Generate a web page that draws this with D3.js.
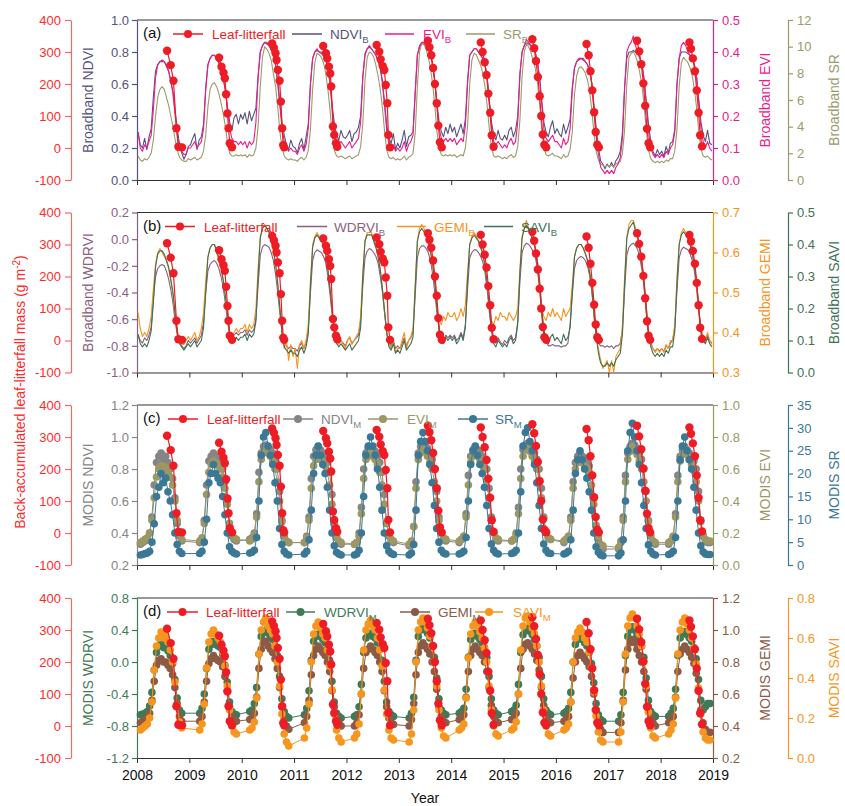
<!DOCTYPE html>
<html lang="en">
<head>
<meta charset="utf-8">
<title>Leaf-litterfall and vegetation indices</title>
<script src="https://cdn.jsdelivr.net/npm/d3@7"></script>
<style>
  body { margin: 0; background: #fff; }
  svg { font-family: Arial, "Liberation Sans", sans-serif; }
</style>
</head>
<body>
<script>

// years on the x axis
var yearTicks = [2008, 2009, 2010, 2011, 2012, 2013, 2014, 2015, 2016, 2017, 2018, 2019];
var dataYears = [2008, 2009, 2010, 2011, 2012, 2013, 2014, 2015, 2016, 2017, 2018];

// broadband series: 24 half-month values per year, 2008..2018
var ndviB = [
 .30,.22,.20,.26,.19,.27,.32,.52,.68,.72,.74,.75,.74,.71,.68,.62,.55,.42,.32,.22,.17,.13,.16,.21,
 .22,.26,.29,.19,.25,.27,.35,.58,.72,.76,.78,.78,.76,.73,.70,.64,.56,.45,.36,.31,.39,.41,.35,.41,
 .38,.42,.35,.43,.37,.41,.45,.65,.80,.84,.86,.85,.84,.82,.78,.72,.62,.48,.35,.28,.22,.19,.25,.21,
 .20,.17,.23,.26,.19,.27,.35,.60,.76,.80,.81,.80,.79,.78,.75,.70,.60,.46,.35,.28,.25,.31,.27,.26,
 .28,.31,.24,.29,.30,.33,.40,.65,.79,.82,.83,.82,.80,.78,.75,.70,.62,.48,.34,.26,.23,.29,.19,.23,
 .20,.25,.31,.21,.27,.28,.30,.55,.78,.83,.85,.85,.84,.82,.78,.72,.62,.48,.36,.30,.27,.33,.29,.35,
 .30,.33,.27,.31,.35,.29,.38,.62,.78,.80,.82,.82,.80,.78,.76,.72,.64,.50,.36,.28,.25,.31,.26,.25,
 .28,.25,.31,.33,.27,.31,.40,.66,.80,.84,.86,.85,.84,.82,.80,.74,.64,.50,.36,.30,.27,.33,.37,.29,
 .32,.29,.27,.35,.29,.33,.38,.58,.70,.74,.75,.76,.75,.74,.72,.68,.60,.46,.32,.20,.12,.10,.07,.10,
 .08,.11,.08,.12,.14,.18,.30,.58,.76,.80,.80,.81,.80,.79,.76,.72,.62,.48,.34,.24,.18,.15,.19,.16,
 .18,.15,.21,.17,.23,.24,.32,.60,.76,.80,.80,.80,.79,.78,.76,.72,.64,.50,.36,.28,.24,.31,.23,.22
];
var eviB = [
 .15,.10,.09,.11,.10,.12,.14,.22,.32,.36,.37,.37,.37,.36,.34,.31,.27,.20,.14,.10,.09,.08,.08,.10,
 .10,.11,.12,.10,.11,.12,.16,.28,.36,.38,.39,.39,.38,.37,.35,.32,.28,.22,.16,.13,.12,.12,.11,.12,
 .11,.12,.10,.12,.11,.12,.18,.32,.40,.42,.43,.43,.42,.41,.39,.36,.30,.23,.16,.12,.10,.09,.10,.09,
 .09,.08,.10,.11,.09,.11,.16,.30,.38,.40,.41,.40,.40,.39,.38,.35,.30,.22,.15,.12,.11,.12,.11,.10,
 .11,.12,.10,.11,.12,.13,.18,.32,.39,.41,.42,.41,.40,.39,.37,.35,.30,.23,.15,.11,.10,.11,.09,.10,
 .09,.10,.12,.09,.11,.12,.14,.27,.39,.42,.43,.43,.42,.41,.39,.36,.31,.23,.16,.13,.12,.13,.12,.13,
 .12,.13,.11,.12,.13,.12,.17,.30,.39,.40,.41,.41,.40,.39,.38,.36,.32,.24,.16,.12,.11,.12,.11,.10,
 .11,.10,.12,.13,.11,.12,.18,.33,.40,.42,.44,.43,.42,.41,.40,.37,.32,.24,.16,.13,.12,.13,.14,.12,
 .12,.11,.10,.13,.11,.12,.16,.28,.35,.37,.38,.38,.38,.37,.36,.34,.30,.22,.14,.08,.04,.03,.02,.03,
 .02,.03,.02,.04,.05,.07,.13,.29,.40,.42,.43,.45,.42,.40,.38,.36,.31,.23,.15,.10,.08,.07,.08,.07,
 .08,.07,.09,.08,.10,.11,.15,.30,.38,.42,.43,.42,.40,.39,.38,.36,.32,.24,.16,.12,.10,.12,.10,.09
];
var srB = [
 1.8,1.5,1.4,1.6,1.5,1.7,2.0,3.0,4.8,6.2,6.8,7.0,6.8,6.2,5.6,4.8,4.0,3.0,2.2,1.7,1.5,1.4,1.4,1.6,
 1.5,1.6,1.7,1.5,1.6,1.7,2.2,3.4,5.5,6.8,7.2,7.3,7.0,6.5,5.8,5.0,4.0,2.8,2.0,1.8,1.8,1.9,1.8,1.9,
 1.8,1.9,1.7,1.9,1.8,1.9,2.4,4.0,7.0,9.2,10.0,9.8,9.5,9.0,8.0,7.0,5.5,3.6,2.4,1.8,1.6,1.5,1.6,1.5,
 1.5,1.4,1.6,1.7,1.5,1.7,2.2,3.8,6.8,8.8,9.5,9.4,9.2,8.8,8.0,6.8,5.2,3.4,2.2,1.8,1.7,1.8,1.7,1.6,
 1.7,1.8,1.6,1.7,1.8,1.9,2.5,4.2,7.5,9.2,9.6,9.5,9.2,8.6,7.8,6.8,5.4,3.6,2.2,1.7,1.6,1.7,1.5,1.6,
 1.5,1.6,1.8,1.5,1.7,1.8,2.0,3.5,7.0,9.6,10.3,10.2,9.8,9.2,8.4,7.2,5.6,3.6,2.4,1.9,1.8,1.9,1.8,1.9,
 1.8,1.9,1.7,1.8,1.9,1.8,2.4,4.0,7.2,9.0,9.5,9.4,9.0,8.6,8.0,7.0,5.6,3.8,2.4,1.8,1.7,1.8,1.7,1.6,
 1.7,1.6,1.8,1.9,1.7,1.8,2.5,4.5,7.8,9.6,10.2,10.0,9.6,9.0,8.4,7.4,5.8,3.8,2.4,1.9,1.8,1.9,2.0,1.8,
 1.8,1.7,1.6,1.9,1.7,1.8,2.3,3.6,6.4,7.8,8.4,8.5,8.3,8.0,7.5,6.6,5.2,3.4,2.1,1.5,1.2,1.1,1.0,1.1,
 1.0,1.1,1.0,1.2,1.3,1.4,2.0,3.8,7.2,9.2,9.5,9.6,9.3,8.8,8.0,7.0,5.5,3.6,2.2,1.6,1.4,1.3,1.4,1.3,
 1.4,1.3,1.5,1.4,1.6,1.6,2.2,3.8,7.0,8.8,9.2,9.0,8.8,8.4,7.8,6.8,5.4,3.6,2.3,1.8,1.7,1.8,1.6,1.5
];
var wdrviB = [
 -.72,-.76,-.78,-.74,-.76,-.72,-.66,-.45,-.28,-.22,-.20,-.19,-.20,-.24,-.30,-.38,-.48,-.62,-.72,-.78,-.80,-.82,-.80,-.76,
 -.78,-.76,-.74,-.78,-.75,-.72,-.62,-.40,-.24,-.19,-.17,-.16,-.18,-.22,-.28,-.36,-.48,-.62,-.72,-.74,-.72,-.70,-.72,-.70,
 -.70,-.68,-.72,-.68,-.70,-.68,-.60,-.35,-.12,-.06,-.04,-.05,-.06,-.10,-.16,-.26,-.40,-.56,-.70,-.78,-.80,-.82,-.80,-.82,
 -.82,-.84,-.80,-.78,-.82,-.78,-.68,-.40,-.16,-.10,-.08,-.09,-.10,-.13,-.18,-.28,-.42,-.58,-.70,-.76,-.78,-.76,-.78,-.80,
 -.76,-.74,-.78,-.76,-.74,-.72,-.62,-.35,-.14,-.09,-.07,-.08,-.10,-.13,-.18,-.28,-.40,-.56,-.70,-.78,-.80,-.76,-.82,-.80,
 -.82,-.78,-.74,-.80,-.76,-.74,-.70,-.42,-.14,-.07,-.05,-.05,-.07,-.10,-.16,-.26,-.40,-.56,-.68,-.74,-.76,-.72,-.74,-.72,
 -.74,-.72,-.76,-.74,-.70,-.74,-.64,-.38,-.14,-.10,-.08,-.08,-.10,-.13,-.17,-.25,-.38,-.55,-.68,-.76,-.78,-.74,-.77,-.79,
 -.76,-.78,-.74,-.72,-.76,-.74,-.62,-.32,-.10,-.05,-.03,-.04,-.06,-.09,-.13,-.22,-.36,-.54,-.68,-.76,-.80,-.80,-.79,-.80,
 -.80,-.80,-.81,-.80,-.80,-.78,-.64,-.42,-.22,-.16,-.14,-.13,-.14,-.16,-.20,-.28,-.40,-.58,-.72,-.78,-.80,-.80,-.81,-.80,
 -.81,-.80,-.82,-.80,-.80,-.78,-.68,-.38,-.12,-.06,-.04,-.03,-.05,-.08,-.14,-.24,-.38,-.56,-.70,-.78,-.82,-.84,-.82,-.84,
 -.82,-.84,-.80,-.82,-.78,-.76,-.66,-.38,-.14,-.08,-.06,-.07,-.08,-.11,-.16,-.24,-.38,-.55,-.68,-.74,-.76,-.72,-.76,-.78
];
var gemiB = [
 .45,.41,.39,.40,.39,.41,.44,.51,.57,.60,.61,.60,.59,.58,.56,.53,.49,.44,.40,.38,.37,.37,.38,.39,
 .38,.39,.40,.38,.39,.41,.45,.53,.59,.61,.62,.62,.60,.58,.56,.53,.49,.44,.40,.39,.40,.41,.40,.41,
 .41,.42,.40,.42,.41,.42,.46,.56,.64,.66,.67,.66,.65,.63,.60,.57,.52,.46,.40,.36,.38,.33,.37,.34,
 .36,.31,.37,.38,.36,.38,.42,.53,.62,.64,.65,.64,.63,.62,.60,.56,.51,.45,.40,.38,.37,.38,.37,.36,
 .38,.39,.37,.38,.39,.40,.44,.55,.63,.65,.65,.65,.63,.62,.60,.56,.51,.45,.40,.37,.36,.38,.35,.36,
 .36,.38,.40,.36,.38,.39,.41,.52,.63,.66,.67,.66,.65,.63,.60,.57,.52,.46,.43,.42,.44,.43,.45,.44,
 .44,.45,.43,.44,.46,.44,.47,.55,.62,.64,.65,.64,.63,.62,.60,.57,.52,.46,.43,.42,.44,.43,.45,.44,
 .44,.43,.45,.44,.43,.44,.46,.56,.64,.66,.68,.66,.65,.63,.61,.58,.53,.46,.44,.43,.45,.44,.46,.44,
 .45,.44,.43,.46,.44,.45,.46,.52,.59,.61,.62,.62,.61,.60,.58,.55,.51,.44,.39,.36,.33,.31,.32,.33,
 .30,.33,.30,.34,.35,.36,.42,.54,.64,.67,.68,.68,.66,.64,.61,.57,.52,.46,.40,.37,.36,.35,.36,.35,
 .36,.35,.37,.36,.38,.38,.42,.54,.62,.65,.66,.65,.64,.62,.60,.57,.52,.46,.41,.39,.38,.40,.38,.37
];
var saviB = [
 .12,.09,.08,.09,.08,.10,.13,.22,.33,.37,.38,.38,.37,.35,.33,.29,.25,.18,.12,.09,.08,.07,.08,.09,
 .08,.09,.10,.08,.09,.10,.14,.25,.36,.39,.40,.40,.38,.36,.33,.29,.24,.18,.12,.10,.10,.11,.10,.11,
 .11,.12,.10,.12,.11,.12,.16,.30,.42,.45,.46,.45,.44,.42,.39,.34,.28,.20,.12,.08,.07,.06,.07,.06,
 .06,.05,.07,.08,.06,.08,.12,.27,.39,.42,.43,.42,.41,.40,.37,.32,.26,.19,.12,.09,.08,.09,.08,.07,
 .08,.09,.07,.08,.09,.10,.14,.30,.41,.43,.43,.43,.41,.39,.36,.32,.26,.19,.12,.08,.07,.09,.06,.07,
 .06,.08,.10,.07,.08,.09,.11,.26,.41,.44,.45,.44,.43,.41,.38,.34,.28,.20,.13,.10,.09,.11,.10,.11,
 .10,.11,.09,.10,.12,.10,.14,.29,.40,.42,.43,.42,.41,.39,.37,.33,.28,.20,.13,.09,.08,.10,.09,.08,
 .09,.08,.10,.11,.09,.10,.15,.31,.42,.45,.46,.45,.43,.41,.39,.35,.29,.20,.13,.10,.09,.11,.12,.10,
 .11,.10,.09,.12,.10,.11,.14,.25,.36,.39,.40,.40,.39,.37,.35,.31,.26,.18,.11,.06,.03,.02,.02,.03,
 .02,.03,.02,.04,.05,.06,.12,.28,.42,.45,.46,.47,.44,.42,.38,.34,.28,.20,.12,.08,.06,.05,.06,.05,
 .06,.05,.07,.06,.08,.08,.13,.28,.40,.43,.44,.43,.42,.40,.37,.33,.28,.20,.13,.10,.09,.11,.09,.08
];

// MODIS composites: day of year of each 16-day value, null = no value
var modisDoy = [25, 41, 57, 73, 89, 105, 121, 137, 153, 169, 185, 201, 217, 233, 249, 265, 281, 297, 313, 329, 345];
var ndviM = [
 .33,.34,.35,.36,.40,.50,.70,.84,.88,.90,.86,.88,.84,.80,.74,.62,.46,.38,.35,null,null,
 null,null,null,.34,.36,.48,.70,.85,.88,.90,.88,.87,.85,.80,.72,.60,.44,.38,.36,.35,null,
 null,null,.36,.37,.40,.52,.78,.90,.94,.95,.93,.92,.90,.86,.80,.66,.48,.38,.35,.34,null,
 null,null,null,.34,.38,.50,.74,.88,.92,.94,.92,.90,.88,.84,.78,.64,.46,.37,.34,.33,null,
 null,null,.33,.34,.40,.56,.80,.90,.93,.94,.92,.91,.88,.84,.78,.64,.46,.38,.35,.34,null,
 null,null,null,.32,.34,.44,.72,.90,.94,.96,.95,.93,.90,.86,.80,.66,.50,.40,.36,.35,null,
 null,null,.34,.36,.38,.52,.76,.88,.92,.94,.92,.90,.88,.85,.80,.68,.50,.40,.36,.35,null,
 null,null,.35,.36,.40,.56,.80,.92,.95,.96,.94,.92,.90,.86,.80,.68,.50,.40,.37,.36,null,
 null,null,.34,.36,.38,.50,.72,.84,.88,.90,.88,.87,.85,.82,.76,.62,.44,.36,.32,.30,null,
 null,null,null,.30,.34,.50,.76,.90,.94,.96,.95,.93,.90,.86,.80,.66,.48,.38,.34,.33,null,
 null,null,.33,.35,.38,.52,.76,.88,.92,.94,.92,.90,.88,.85,.80,.66,.48,.38,.35,.34,.34
];
var eviM = [
 .14,.15,.16,.17,.20,.28,.42,.55,.60,.62,.60,.61,.58,.55,.50,.40,.28,.20,.16,null,null,
 null,null,null,.15,.17,.26,.44,.58,.63,.65,.64,.62,.60,.55,.48,.38,.26,.20,.17,.16,null,
 null,null,.15,.16,.19,.30,.52,.66,.70,.72,.70,.68,.65,.60,.52,.40,.27,.19,.15,.14,null,
 null,null,null,.14,.17,.28,.48,.62,.66,.68,.66,.64,.62,.58,.50,.38,.26,.18,.15,.14,null,
 null,null,.13,.14,.18,.32,.54,.66,.68,.70,.68,.66,.63,.58,.50,.38,.26,.19,.16,.15,null,
 null,null,null,.13,.15,.24,.48,.66,.70,.72,.71,.68,.64,.60,.52,.40,.28,.20,.17,.16,null,
 null,null,.15,.16,.18,.30,.50,.64,.68,.70,.68,.66,.63,.60,.53,.42,.28,.20,.17,.16,null,
 null,null,.15,.16,.19,.32,.54,.68,.72,.73,.71,.68,.65,.60,.53,.42,.29,.21,.17,.16,null,
 null,null,.15,.16,.18,.28,.48,.60,.64,.66,.64,.62,.60,.57,.50,.38,.25,.18,.13,.12,null,
 null,null,null,.11,.15,.28,.52,.66,.71,.74,.72,.69,.65,.60,.52,.40,.27,.19,.15,.14,null,
 null,null,.14,.15,.18,.30,.52,.65,.69,.71,.69,.66,.63,.59,.52,.40,.27,.19,.16,.15,.15
];
var srM = [
 2.2,2.3,2.5,2.6,3.0,5.0,9.0,15,17,20,18,19,16,14,11,7,4.5,3.0,2.5,null,null,
 null,null,null,2.5,3.0,5.0,10,18,20,22,20,19,18,15,11,7,4.0,3.0,2.6,2.4,null,
 null,null,2.6,2.8,3.2,6.0,14,24,28,29,26,24,22,18,14,8,4.5,3.0,2.4,2.2,null,
 null,null,null,2.4,3.0,5.5,12,20,24,26,24,22,20,17,12,7,4.2,2.8,2.4,2.2,null,
 null,null,2.2,2.4,3.2,7.0,15,24,26,28,26,24,21,17,12,7,4.2,3.0,2.5,2.3,null,
 null,null,null,2.2,2.6,4.5,12,24,27,29,27,25,22,18,13,8,5.0,3.2,2.6,2.4,null,
 null,null,2.4,2.6,3.0,6.0,14,22,25,26,24,22,20,17,13,8,4.6,3.2,2.6,2.4,null,
 null,null,2.5,2.7,3.2,7.0,16,26,29,30,27,25,22,18,13,8,4.6,3.2,2.6,2.5,null,
 null,null,2.4,2.6,3.0,5.5,12,20,23,25,23,21,19,16,12,7,4.0,2.8,2.2,2.0,null,
 null,null,null,2.0,2.6,5.5,14,25,29,31,28,25,22,18,13,8,4.4,3.0,2.4,2.2,null,
 null,null,2.3,2.5,3.0,6.0,14,23,26,28,25,23,21,17,12,7,4.2,2.9,2.4,2.3,2.3
];
var wdrviM = [
 -.66,-.65,-.64,-.62,-.55,-.38,-.10,.12,.20,.24,.18,.20,.14,.08,-.02,-.22,-.45,-.60,-.64,null,null,
 null,null,null,-.64,-.58,-.40,-.08,.16,.22,.26,.22,.20,.18,.10,-.04,-.25,-.50,-.62,-.65,-.66,null,
 null,null,-.62,-.60,-.52,-.32,.10,.32,.38,.40,.36,.32,.28,.20,.08,-.18,-.46,-.62,-.68,-.70,null,
 null,null,null,-.66,-.58,-.36,.02,.26,.32,.35,.32,.28,.24,.16,.02,-.24,-.50,-.64,-.68,-.70,null,
 null,null,-.68,-.66,-.56,-.28,.12,.30,.34,.36,.32,.30,.24,.16,.02,-.24,-.50,-.62,-.66,-.68,null,
 null,null,null,-.70,-.64,-.44,.02,.32,.40,.44,.40,.36,.30,.20,.06,-.20,-.46,-.60,-.64,-.66,null,
 null,null,-.64,-.62,-.58,-.34,.06,.28,.34,.36,.32,.28,.24,.18,.06,-.18,-.46,-.60,-.64,-.66,null,
 null,null,-.62,-.60,-.54,-.28,.12,.34,.40,.42,.38,.34,.28,.20,.06,-.18,-.46,-.60,-.64,-.66,null,
 null,null,-.64,-.62,-.58,-.38,.00,.22,.28,.30,.28,.24,.20,.12,-.02,-.26,-.52,-.66,-.72,-.74,null,
 null,null,null,-.74,-.66,-.38,.08,.32,.40,.44,.40,.34,.28,.20,.06,-.20,-.48,-.62,-.66,-.68,null,
 null,null,-.68,-.64,-.58,-.34,.08,.30,.36,.38,.34,.30,.26,.18,.04,-.22,-.48,-.60,-.56,-.52,-.52
];
var gemiM = [
 .42,.43,.44,.45,.48,.56,.68,.78,.81,.82,.80,.80,.78,.76,.72,.64,.54,.46,.43,null,null,
 null,null,null,.43,.46,.55,.68,.79,.82,.84,.82,.81,.80,.77,.71,.62,.52,.46,.44,.43,null,
 null,null,.44,.45,.48,.58,.76,.88,.92,.93,.90,.88,.86,.82,.76,.64,.52,.44,.40,.38,null,
 null,null,null,.42,.46,.56,.72,.84,.88,.90,.88,.86,.84,.80,.74,.62,.52,.45,.42,.40,null,
 null,null,.40,.42,.47,.60,.76,.86,.88,.90,.88,.86,.84,.80,.74,.62,.52,.45,.42,.41,null,
 null,null,null,.40,.44,.54,.72,.86,.90,.92,.90,.88,.85,.80,.74,.63,.52,.46,.43,.42,null,
 null,null,.44,.45,.47,.58,.74,.84,.88,.90,.88,.86,.84,.80,.74,.64,.53,.46,.43,.42,null,
 null,null,.44,.45,.48,.60,.76,.88,.91,.92,.90,.88,.85,.81,.75,.64,.53,.46,.43,.42,null,
 null,null,.43,.44,.46,.55,.70,.80,.84,.86,.84,.82,.80,.77,.71,.60,.50,.43,.38,.36,null,
 null,null,null,.36,.42,.56,.75,.88,.92,.94,.92,.88,.84,.80,.74,.63,.52,.45,.42,.40,null,
 null,null,.42,.44,.46,.58,.74,.85,.88,.90,.88,.86,.83,.79,.73,.62,.50,.42,.38,.36,.36
];
var saviM = [
 .14,.15,.16,.17,.20,.28,.44,.56,.60,.63,.60,.61,.58,.54,.48,.38,.26,.18,.15,null,null,
 null,null,null,.14,.17,.27,.45,.58,.62,.64,.62,.60,.58,.53,.46,.36,.24,.16,.13,.12,null,
 null,null,.14,.15,.18,.30,.52,.64,.68,.70,.66,.64,.62,.56,.48,.36,.22,.12,.08,.06,null,
 null,null,null,.10,.15,.27,.48,.62,.66,.68,.65,.62,.60,.54,.46,.34,.22,.14,.10,.08,null,
 null,null,.10,.12,.17,.32,.54,.64,.67,.69,.66,.64,.60,.54,.46,.34,.22,.14,.10,.09,null,
 null,null,null,.08,.12,.24,.48,.64,.68,.70,.68,.65,.61,.56,.48,.36,.24,.15,.11,.10,null,
 null,null,.14,.15,.17,.30,.50,.62,.66,.68,.66,.63,.60,.55,.48,.36,.24,.16,.12,.11,null,
 null,null,.14,.15,.18,.32,.54,.66,.70,.71,.68,.65,.62,.56,.48,.36,.24,.16,.12,.11,null,
 null,null,.14,.15,.17,.28,.48,.60,.63,.65,.63,.60,.58,.53,.45,.33,.21,.13,.09,.08,null,
 null,null,null,.08,.13,.28,.52,.66,.70,.72,.70,.66,.62,.56,.48,.36,.23,.15,.11,.10,null,
 null,null,.12,.14,.17,.30,.52,.64,.68,.70,.67,.64,.60,.55,.47,.35,.22,.13,.10,.09,.09
];

// back-accumulated leaf-litterfall mass (g m-2)
var litterDate = [
 2008.574,2008.644,2008.696,2008.753,2008.790,2008.860,
 2009.568,2009.614,2009.652,2009.677,2009.702,2009.728,2009.748,2009.772,2009.816,
 2010.581,2010.614,2010.646,2010.665,2010.690,2010.723,2010.748,2010.772,2010.792,2010.810,
 2011.556,2011.608,2011.633,2011.665,2011.690,2011.709,2011.742,2011.767,2011.800,2011.824,
 2012.577,2012.627,2012.654,2012.692,2012.723,2012.750,2012.780,2012.800,2012.832,
 2013.555,2013.585,2013.620,2013.655,2013.690,2013.725,2013.755,2013.785,2013.820,
 2014.565,2014.600,2014.640,2014.675,2014.710,2014.745,2014.775,2014.810,
 2015.550,2015.585,2015.620,2015.655,2015.690,2015.720,2015.750,2015.780,2015.815,
 2016.585,2016.625,2016.660,2016.695,2016.730,2016.760,2016.790,2016.820,
 2017.550,2017.590,2017.630,2017.670,2017.705,2017.740,2017.770,2017.800,
 2018.550,2018.580,2018.615,2018.655,2018.690,2018.725,2018.755,2018.790
];
var litterMass = [
 304,259,210,62,4,2,
 282,254,235,218,168,108,62,15,2,
 327,313,296,275,244,210,145,62,9,2,
 319,296,280,254,233,192,67,41,15,4,
 322,301,277,256,244,197,140,41,2,
 335,315,290,250,200,140,70,18,2,
 330,300,268,228,170,110,40,4,
 340,312,272,222,162,100,42,10,2,
 325,290,240,180,112,50,10,2,
 335,302,262,202,132,60,15,2,
 330,310,280,240,180,110,40,5
];

// colours
var cRed = "#ee1c25", cRedAxis = "#f36a6a";

// dates for the two kinds of series
var bbDates = [];
dataYears.forEach(function(y) {
  for (var k = 0; k < 24; k++) bbDates.push(y + (k + 0.5) / 24);
});
var modisDates = [];
dataYears.forEach(function(y) {
  modisDoy.forEach(function(d) { modisDates.push(y + (d - 1) / 365); });
});

var w = 845, h = 806;
var plotL = 137, plotR = 713, panelH = 160;
var panelTop = [20, 212.5, 405, 598];

var x = d3.scaleLinear().domain([2008, 2019]).range([plotL, plotR]);

var svg = d3.select("body").append("svg")
  .attr("width", w)
  .attr("height", h);

function fmt1(v) { return v.toFixed(1); }
function fmt0(v) { return String(v); }

var panels = [
  { label: "(a)",
    left:  { dom: [0, 1],   ticks: [0, .2, .4, .6, .8, 1], f: fmt1, color: "#55537e", title: "Broadband NDVI" },
    r1:    { dom: [0, .5],  ticks: [0, .1, .2, .3, .4, .5], f: fmt1, color: "#ec1b8c", title: "Broadband EVI" },
    r2:    { dom: [0, 12],  ticks: [0, 2, 4, 6, 8, 10, 12], f: fmt0, color: "#9d9a6b", title: "Broadband SR" },
    series: [
      { data: ndviB, axis: "left", color: "#55537e" },
      { data: srB,   axis: "r2",   color: "#9d9a6b" },
      { data: eviB,  axis: "r1",   color: "#ec1b8c" }
    ],
    kind: "bb",
    legend: [
      { x0: 173, x1: 203, tx: 212, name: "Leaf-litterfall", sub: "", color: cRed, dot: true },
      { x0: 292, x1: 322, tx: 330, name: "NDVI", sub: "B", color: "#55537e" },
      { x0: 385, x1: 414, tx: 423, name: "EVI", sub: "B", color: "#ec1b8c" },
      { x0: 466, x1: 495, tx: 503, name: "SR", sub: "B", color: "#9d9a6b" }
    ] },
  { label: "(b)",
    left:  { dom: [-1, .2], ticks: [-1, -.8, -.6, -.4, -.2, 0, .2], f: fmt1, color: "#8b5f80", title: "Broadband WDRVI" },
    r1:    { dom: [.3, .7], ticks: [.3, .4, .5, .6, .7], f: fmt1, color: "#f7941d", title: "Broadband GEMI" },
    r2:    { dom: [0, .5],  ticks: [0, .1, .2, .3, .4, .5], f: fmt1, color: "#3e7155", title: "Broadband SAVI" },
    series: [
      { data: wdrviB, axis: "left", color: "#8b5f80" },
      { data: gemiB,  axis: "r1",   color: "#f7941d" },
      { data: saviB,  axis: "r2",   color: "#3e7155" }
    ],
    kind: "bb",
    legend: [
      { x0: 165, x1: 195, tx: 204, name: "Leaf-litterfall", sub: "", color: cRed, dot: true },
      { x0: 297, x1: 327, tx: 334, name: "WDRVI", sub: "B", color: "#8b5f80" },
      { x0: 397, x1: 426, tx: 434, name: "GEMI", sub: "B", color: "#f7941d" },
      { x0: 484, x1: 513, tx: 521, name: "SAVI", sub: "B", color: "#3e7155" }
    ] },
  { label: "(c)",
    left:  { dom: [.2, 1.2], ticks: [.2, .4, .6, .8, 1, 1.2], f: fmt1, color: "#858585", title: "MODIS NDVI" },
    r1:    { dom: [0, 1],    ticks: [0, .2, .4, .6, .8, 1], f: fmt1, color: "#9c9764", title: "MODIS EVI" },
    r2:    { dom: [0, 35],   ticks: [0, 5, 10, 15, 20, 25, 30, 35], f: fmt0, color: "#3b7896", title: "MODIS SR" },
    series: [
      { data: ndviM, axis: "left", color: "#858585" },
      { data: eviM,  axis: "r1",   color: "#9c9764" },
      { data: srM,   axis: "r2",   color: "#3b7896" }
    ],
    kind: "modis",
    legend: [
      { x0: 168, x1: 198, tx: 207, name: "Leaf-litterfall", sub: "", color: cRed, dot: true },
      { x0: 283, x1: 313, tx: 321, name: "NDVI", sub: "M", color: "#858585", dot: true },
      { x0: 368, x1: 398, tx: 407, name: "EVI", sub: "M", color: "#9c9764", dot: true },
      { x0: 458, x1: 488, tx: 495, name: "SR", sub: "M", color: "#3b7896", dot: true }
    ] },
  { label: "(d)",
    left:  { dom: [-1.2, .8], ticks: [-1.2, -.8, -.4, 0, .4, .8], f: fmt1, color: "#3f7a58", title: "MODIS WDRVI" },
    r1:    { dom: [.2, 1.2],  ticks: [.2, .4, .6, .8, 1, 1.2], f: fmt1, color: "#8c5a45", title: "MODIS GEMI" },
    r2:    { dom: [0, .8],    ticks: [0, .2, .4, .6, .8], f: fmt1, color: "#f7961e", title: "MODIS SAVI" },
    series: [
      { data: wdrviM, axis: "left", color: "#3f7a58" },
      { data: gemiM,  axis: "r1",   color: "#8c5a45" },
      { data: saviM,  axis: "r2",   color: "#f7961e" }
    ],
    kind: "modis",
    legend: [
      { x0: 167, x1: 198, tx: 206, name: "Leaf-litterfall", sub: "", color: cRed, dot: true },
      { x0: 286, x1: 315, tx: 324, name: "WDRVI", sub: "M", color: "#3f7a58", dot: true },
      { x0: 400, x1: 430, tx: 438, name: "GEMI", sub: "M", color: "#8c5a45", dot: true },
      { x0: 475, x1: 503, tx: 513, name: "SAVI", sub: "M", color: "#f7961e", dot: true }
    ] }
];

function styleAxis(g, color) {
  g.select(".domain").attr("stroke", color).attr("stroke-width", 1.2);
  g.selectAll(".tick line").attr("stroke", color).attr("stroke-width", 1.2);
  g.selectAll(".tick text")
    .attr("fill", color)
    .attr("font-size", "13px");
}

panels.forEach(function(p, i) {
  var top = panelTop[i], bot = top + panelH;
  var g = svg.append("g");

  var yL = d3.scaleLinear().domain(p.left.dom).range([bot, top]);
  var y1 = d3.scaleLinear().domain(p.r1.dom).range([bot, top]);
  var y2 = d3.scaleLinear().domain(p.r2.dom).range([bot, top]);
  var yRed = d3.scaleLinear().domain([-100, 400]).range([bot, top]);
  var yOf = { left: yL, r1: y1, r2: y2 };

  // frame top line
  g.append("line")
    .attr("x1", plotL).attr("x2", plotR)
    .attr("y1", top).attr("y2", top)
    .attr("stroke", "#333").attr("stroke-width", 1.2);

  // x axis
  var xa = g.append("g")
    .attr("transform", "translate(0," + bot + ")")
    .call(d3.axisBottom(x).tickValues(yearTicks).tickSize(5).tickSizeOuter(0)
      .tickFormat(i === 3 ? d3.format("d") : ""));
  xa.select(".domain").attr("stroke", "#333").attr("stroke-width", 1.2);
  xa.selectAll(".tick line").attr("stroke", "#333");
  xa.selectAll(".tick text").attr("font-size", "14px").attr("fill", "#111").attr("dy", "1em");

  // red litterfall axis
  var ra = g.append("g")
    .attr("transform", "translate(71,0)")
    .call(d3.axisLeft(yRed).tickValues([-100, 0, 100, 200, 300, 400]).tickFormat(fmt0)
      .tickSize(6).tickSizeOuter(0).tickPadding(4));
  styleAxis(ra, cRedAxis);
  ra.selectAll(".tick text").attr("fill", "#ff2a2a");

  // left index axis
  var la = g.append("g")
    .attr("transform", "translate(" + plotL + ",0)")
    .call(d3.axisLeft(yL).tickValues(p.left.ticks).tickFormat(p.left.f)
      .tickSize(5).tickSizeOuter(0).tickPadding(3));
  styleAxis(la, p.left.color);

  // right axes
  var a1 = g.append("g")
    .attr("transform", "translate(" + plotR + ",0)")
    .call(d3.axisRight(y1).tickValues(p.r1.ticks).tickFormat(p.r1.f)
      .tickSize(5).tickSizeOuter(0).tickPadding(4));
  styleAxis(a1, p.r1.color);

  var a2 = g.append("g")
    .attr("transform", "translate(788,0)")
    .call(d3.axisRight(y2).tickValues(p.r2.ticks).tickFormat(p.r2.f)
      .tickSize(5).tickSizeOuter(0).tickPadding(4));
  styleAxis(a2, p.r2.color);

  // axis titles
  var mid = top + panelH / 2;
  [[88, p.left], [765, p.r1], [834, p.r2]].forEach(function(t) {
    g.append("text")
      .attr("transform", "translate(" + t[0] + "," + mid + ") rotate(-90)")
      .attr("text-anchor", "middle")
      .attr("dy", "0.35em")
      .attr("font-size", "14px")
      .attr("fill", t[1].color)
      .text(t[1].title);
  });

  // series
  var dates = p.kind === "bb" ? bbDates : modisDates;
  p.series.forEach(function(s) {
    var pts = [];
    s.data.forEach(function(v, k) {
      if (v !== null) pts.push([dates[k], v]);
    });
    var ys = yOf[s.axis];
    var line = d3.line()
      .x(function(d) { return x(d[0]); })
      .y(function(d) { return ys(d[1]); });
    g.append("path")
      .datum(pts)
      .attr("fill", "none")
      .attr("stroke", s.color)
      .attr("stroke-width", p.kind === "bb" ? 1.1 : 1)
      .attr("stroke-linejoin", "round")
      .attr("d", line);
    if (p.kind === "modis") {
      g.selectAll(null)
        .data(pts)
        .enter()
        .append("circle")
        .attr("cx", function(d) { return x(d[0]); })
        .attr("cy", function(d) { return ys(d[1]); })
        .attr("r", 3.8)
        .attr("fill", s.color);
    }
  });

  // leaf-litterfall, one line per year
  var lit = litterDate.map(function(d, k) { return [d, litterMass[k]]; });
  var byYear = d3.groups(lit, function(d) { return Math.floor(d[0]); });
  var rline = d3.line()
    .x(function(d) { return x(d[0]); })
    .y(function(d) { return yRed(d[1]); });
  byYear.forEach(function(gr) {
    g.append("path")
      .datum(gr[1])
      .attr("fill", "none")
      .attr("stroke", cRed)
      .attr("stroke-width", 1.2)
      .attr("d", rline);
  });
  g.selectAll(null)
    .data(lit)
    .enter()
    .append("circle")
    .attr("cx", function(d) { return x(d[0]); })
    .attr("cy", function(d) { return yRed(d[1]); })
    .attr("r", 4.2)
    .attr("fill", cRed);

  // panel label
  g.append("text")
    .attr("x", 143).attr("y", top + 18)
    .attr("font-size", "15px")
    .attr("fill", "#111")
    .text(p.label);

  // legend
  var ly = top + 14;
  p.legend.forEach(function(it) {
    g.append("line")
      .attr("x1", it.x0).attr("x2", it.x1)
      .attr("y1", ly).attr("y2", ly)
      .attr("stroke", it.color).attr("stroke-width", 1.5);
    if (it.dot) {
      g.append("circle")
        .attr("cx", (it.x0 + it.x1) / 2).attr("cy", ly)
        .attr("r", 4).attr("fill", it.color);
    }
    var t = g.append("text")
      .attr("x", it.tx).attr("y", ly + 5)
      .attr("font-size", "13.5px")
      .attr("fill", it.color)
      .text(it.name);
    if (it.sub) {
      t.append("tspan")
        .attr("dy", 4)
        .attr("font-size", "9.5px")
        .text(it.sub);
    }
  });
});

// shared red axis title
var rt = svg.append("text")
  .attr("transform", "translate(20,392) rotate(-90)")
  .attr("text-anchor", "middle")
  .attr("dy", "0.35em")
  .attr("font-size", "14px")
  .attr("fill", "#ff2a2a")
  .text("Back-accumulated leaf-litterfall mass (g m");
rt.append("tspan").attr("dy", -5).attr("font-size", "10px").text("-2");
rt.append("tspan").attr("dy", 5).text(")");

// x axis title
svg.append("text")
  .attr("x", 425).attr("y", 803)
  .attr("text-anchor", "middle")
  .attr("font-size", "14px")
  .attr("fill", "#111")
  .text("Year");

</script>
</body>
</html>
